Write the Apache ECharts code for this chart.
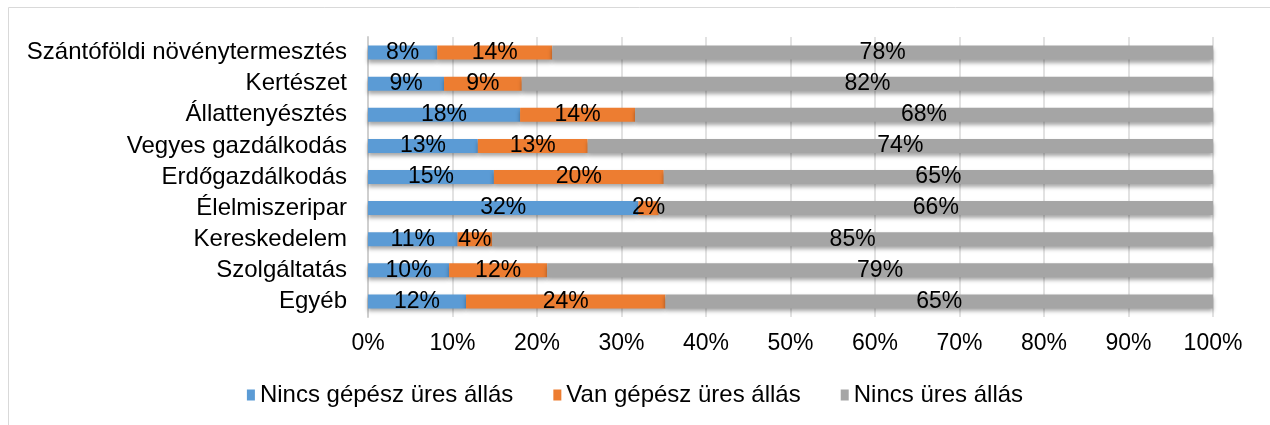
<!DOCTYPE html>
<html>
<head>
<meta charset="utf-8">
<script src="https://cdn.jsdelivr.net/npm/echarts@6/dist/echarts.min.js"></script>
<style>
  html, body { margin: 0; padding: 0; background: #fff; }
  #chart { width: 1270px; height: 425px; }
</style>
</head>
<body>
<div id="chart"></div>
<script>
// ágazatok, fentről lefelé
const categories = [
    'Szántóföldi növénytermesztés',
    'Kertészet',
    'Állattenyésztés',
    'Vegyes gazdálkodás',
    'Erdőgazdálkodás',
    'Élelmiszeripar',
    'Kereskedelem',
    'Szolgáltatás',
    'Egyéb'
];
const seriesNames = ['Nincs gépész üres állás', 'Van gépész üres állás', 'Nincs üres állás'];

// arányok (%) a kép alapján
const nincsGepesz = [8.2, 9.0, 18.0, 13.0, 14.9, 32.0, 10.6, 9.6, 11.6];
const vanGepesz   = [13.6, 9.2, 13.6, 13.0, 20.1, 2.4, 4.1, 11.6, 23.6];
const nincsUres   = [78.2, 81.8, 68.4, 74.0, 65.0, 65.6, 85.3, 78.8, 64.8];

const xTicks = [0, 10, 20, 30, 40, 50, 60, 70, 80, 90, 100];

const colors = ['#5b9bd5', '#ed7d31', '#a5a5a5'];
const FONT = '"Liberation Sans", Arial, sans-serif';

const chart = echarts.init(document.getElementById('chart'));

function makeSeries(name, data, color) {
    return {
        name: name,
        type: 'bar',
        stack: 'total',
        barWidth: 14,
        data: data,
        itemStyle: {
            color: color,
            shadowColor: 'rgba(0,0,0,0.35)',
            shadowBlur: 4,
            shadowOffsetY: 3
        },
        label: {
            show: true,
            position: 'inside',
            color: '#000',
            fontFamily: FONT,
            fontSize: 23,
            formatter: p => Math.round(p.value) + '%'
        }
    };
}

chart.setOption({
    animation: false,
    color: colors,
    textStyle: { fontFamily: FONT },
    graphic: [{
        type: 'rect',
        shape: { x: 8.5, y: 7.5, width: 1270, height: 430 },
        style: { fill: 'none', stroke: '#d9d9d9', lineWidth: 1 },
        silent: true
    }],
    grid: {
        left: 368,
        right: 57,
        top: 37,
        bottom: 108
    },
    xAxis: {
        type: 'value',
        min: xTicks[0],
        max: xTicks[xTicks.length - 1],
        interval: 10,
        axisLine: { show: false },
        axisTick: { show: false },
        splitLine: { lineStyle: { color: '#d9d9d9', width: 1.5 } },
        axisLabel: {
            color: '#000',
            fontSize: 23,
            margin: 15,
            formatter: v => v + '%'
        }
    },
    yAxis: {
        type: 'category',
        inverse: true,
        data: categories,
        axisLine: { show: true, lineStyle: { color: '#cfcfcf', width: 2 } },
        axisTick: { show: false },
        axisLabel: {
            color: '#000',
            fontSize: 24,
            margin: 21,
            interval: 0
        }
    },
    legend: {
        bottom: 13,
        left: 'center',
        itemWidth: 8,
        itemHeight: 11,
        itemGap: 40,
        icon: 'rect',
        textStyle: { color: '#000', fontSize: 24, fontFamily: FONT },
        data: seriesNames
    },
    series: [
        makeSeries(seriesNames[0], nincsGepesz, colors[0]),
        makeSeries(seriesNames[1], vanGepesz, colors[1]),
        makeSeries(seriesNames[2], nincsUres, colors[2])
    ]
});
</script>
</body>
</html>
